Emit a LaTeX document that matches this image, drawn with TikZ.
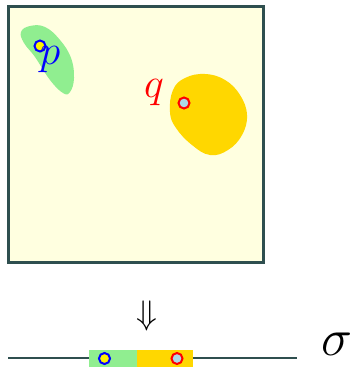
\documentclass[tikz,border=0pt]{standalone}
\usetikzlibrary{positioning}
\definecolor{slate}{HTML}{2F4F4F}
\definecolor{paper}{HTML}{FFFFE0}
\definecolor{leaf}{HTML}{90EE90}
\definecolor{sun}{HTML}{FFD700}
\definecolor{sky}{HTML}{ADD8E6}
\tikzset{
  pt/.style={circle,inner sep=0pt,minimum size=11pt,line width=2pt},
}
\newcommand{\bigtxt}[2]{\scalebox{#1}{\Huge #2}}
\begin{document}
\begin{tikzpicture}[x=1pt,y=-1pt]
        \useasboundingbox (0,0) rectangle (354,367);
        % the region
        \draw[slate,line width=3pt,fill=paper] (8.5,6.5) rectangle (263.5,262.5);
        \fill[leaf] plot[smooth cycle,tension=0.7] coordinates
             {(21,32) (30,26) (45,27) (60,40) (71,58) (74,78) (70,92) (63,93) (50,80) (35,57) (24,43)};
        \fill[sun] plot[smooth cycle,tension=0.7] coordinates
             {(170,112) (173,90) (185,78) (205,74) (225,80) (240,95) (247,115) (242,135) (228,150) (210,155) (192,145) (176,128)};
        \node[pt,draw=blue,fill=yellow] (p) at (40,46) {};
        \node[pt,draw=red,fill=sky] (q) at (184,103) {};
        \node[blue] (plab) at (50,60) {\bigtxt{1.69}{$p$}};
        \node[red] (qlab) at (154,93) {\bigtxt{1.69}{$q$}};
        % the line below
        \node (down) at (147,316) {\bigtxt{1.37}{$\Downarrow$}};
        \coordinate (lineL) at (8,358);
        \coordinate (lineR) at (297,358);
        \draw[slate,line width=1.2pt] (lineL) -- (lineR);
        \fill[leaf] (89,350) rectangle (137,367);
        \fill[sun] (137,350) rectangle (193,367);
        \node[pt,draw=blue,fill=yellow] (p1) at (104.5,358.5) {};
        \node[pt,draw=red,fill=sky] (q1) at (177,358.5) {};
        \node (sigma) at (337,344) {\bigtxt{2.1}{$\sigma$}};
\end{tikzpicture}
\end{document}
